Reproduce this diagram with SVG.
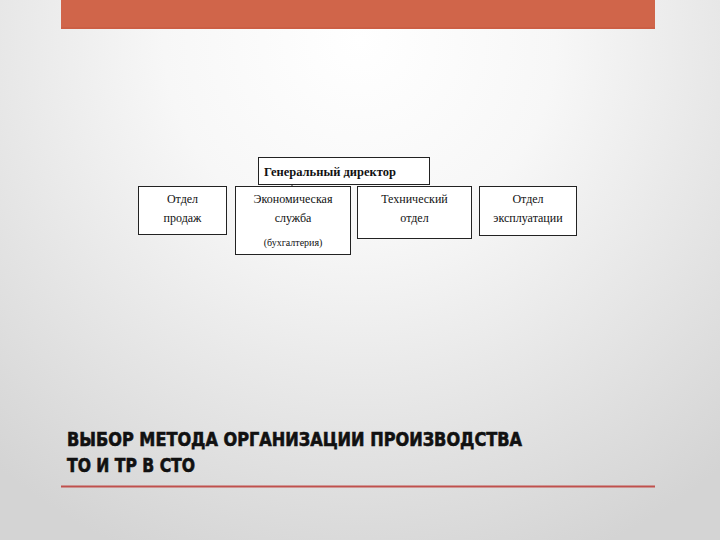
<svg xmlns="http://www.w3.org/2000/svg" width="720" height="540" viewBox="0 0 720 540">
<defs>
<radialGradient id="bg" cx="360" cy="40" r="560" gradientUnits="userSpaceOnUse">
<stop offset="0" stop-color="#ffffff"/>
<stop offset="0.35" stop-color="#f7f7f7"/>
<stop offset="1" stop-color="#d4d4d4"/>
</radialGradient>
<style>
.box{fill:#ffffff;stroke:#222;stroke-width:1}
.t{font-family:"Liberation Serif","Times New Roman",serif;font-size:12px;fill:#111;text-anchor:middle}
.tb{font-family:"Liberation Serif","Times New Roman",serif;font-size:12.5px;font-weight:bold;fill:#111}
.title{font-family:"DejaVu Sans Condensed","DejaVu Sans","Liberation Sans",sans-serif;font-stretch:condensed;font-weight:bold;font-size:19.5px;fill:#111;stroke:#111;stroke-width:0.6}
.conn{stroke:#222;stroke-width:1;fill:none}
</style>
</defs>
<rect width="720" height="540" fill="url(#bg)"/>
<rect x="61" y="0" width="594" height="29" fill="#d0654a"/>
<line x1="61" y1="28" x2="655" y2="28" stroke="#c85a40" stroke-width="1"/>
<line x1="61" y1="486.5" x2="655" y2="486.5" stroke="#c0504d" stroke-width="2"/>
<g id="connectors">
<line class="conn" x1="292" y1="184" x2="292" y2="186"/>
</g>
<g id="director">
<rect class="box" x="258.5" y="157.5" width="171" height="27"/>
<text class="tb" x="264" y="175.5">Генеральный директор</text>
</g>
<g id="sales">
<rect class="box" x="138.5" y="186.5" width="88" height="48"/>
<text class="t" x="182.5" y="203">Отдел</text>
<text class="t" x="182.5" y="222">продаж</text>
</g>
<g id="economic">
<rect class="box" x="235.5" y="186.5" width="115" height="68"/>
<text class="t" x="293" y="203">Экономическая</text>
<text class="t" x="293" y="222">служба</text>
<text class="t" x="293" y="246" style="font-size:10px">(бухгалтерия)</text>
</g>
<g id="technical">
<rect class="box" x="357.5" y="186.5" width="114" height="52"/>
<text class="t" x="414.5" y="203">Технический</text>
<text class="t" x="414.5" y="222">отдел</text>
</g>
<g id="operation">
<rect class="box" x="479.5" y="186.5" width="97" height="49"/>
<text class="t" x="528" y="203">Отдел</text>
<text class="t" x="528" y="222">эксплуатации</text>
</g>
<g id="title">
<text class="title" x="67" y="446" textLength="455" lengthAdjust="spacingAndGlyphs">ВЫБОР МЕТОДА ОРГАНИЗАЦИИ ПРОИЗВОДСТВА</text>
<text class="title" x="67" y="472" textLength="128" lengthAdjust="spacingAndGlyphs">ТО И ТР В СТО</text>
</g>
</svg>
